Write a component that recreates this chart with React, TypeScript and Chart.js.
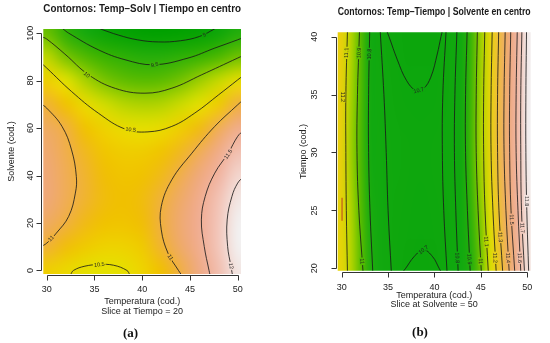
import React, { useEffect, useRef } from "react";
import { Chart, registerables } from "chart.js";

Chart.register(...registerables);

const FONT = "'Liberation Sans', Arial, sans-serif";

// ---------- ticks ----------
const temperaturaTicks = [30, 35, 40, 45, 50];
const solventeTicks = [0, 20, 40, 60, 80, 100];
const tiempoTicks = [20, 25, 30, 35, 40];

// ---------- panel (a): response grid (rows = Solvente, cols = Temperatura) ----------
const gridTempA = [30, 32, 34, 36, 38, 40, 42, 44, 46, 48, 50];
const gridSolvA = [0, 10, 20, 30, 40, 50, 60, 70, 80, 90, 100];
const responseA = [
  [10.65, 10.56, 10.47, 10.45, 10.48, 10.6, 10.8, 11.02, 11.35, 11.7, 12.1],
  [10.97, 10.83, 10.7, 10.62, 10.62, 10.7, 10.95, 11.18, 11.44, 11.8, 12.2],
  [11.15, 11.0, 10.87, 10.78, 10.76, 10.82, 11.0, 11.22, 11.47, 11.8, 12.2],
  [11.25, 11.1, 10.95, 10.84, 10.8, 10.84, 10.98, 11.18, 11.42, 11.75, 12.1],
  [11.25, 11.1, 10.95, 10.82, 10.76, 10.78, 10.88, 11.06, 11.3, 11.58, 11.95],
  [11.22, 11.06, 10.9, 10.75, 10.68, 10.68, 10.76, 10.9, 11.1, 11.38, 11.72],
  [11.15, 11.0, 10.78, 10.62, 10.52, 10.48, 10.52, 10.66, 10.85, 11.1, 11.4],
  [10.97, 10.78, 10.54, 10.38, 10.27, 10.23, 10.25, 10.35, 10.47, 10.68, 11.0],
  [10.65, 10.45, 10.22, 10.03, 9.92, 9.87, 9.9, 10.0, 10.17, 10.33, 10.5],
  [10.3, 10.02, 9.83, 9.67, 9.54, 9.46, 9.46, 9.53, 9.65, 9.8, 9.98],
  [9.95, 9.55, 9.25, 9.05, 8.93, 8.87, 8.85, 8.88, 8.95, 9.1, 9.4],
];

// contour lines (Temperatura, Solvente)
const contour9A = [[35.6, 101.8], [37.5, 99.2], [39.5, 97.2], [41.7, 96.3], [44, 96.8], [46, 98.6], [47.6, 101.8]];
const contour95A = [[31.7, 101.8], [32.3, 100], [35.4, 93], [38.2, 88.8], [41.2, 86.7], [44.8, 89.5], [47.6, 93.7], [50, 97.2], [50.6, 98.2]];
const contour10A = [[29.4, 98.6], [30, 97.5], [31.9, 91.2], [34.4, 82.4], [37.2, 76.7], [40.3, 74.7], [43.1, 76.8], [46.2, 82.4], [50, 89.5], [50.6, 90.6]];
const contour105A = [[29.4, 87.5], [30, 85.3], [32.6, 75.4], [35.4, 66.3], [38.2, 59.6], [40.6, 58.4], [43.1, 60.7], [45.5, 66.3], [48, 74], [50, 80.3], [50.6, 82.2]];
const contour11LeftA = [[29.3, 70.5], [30, 68.4], [31.6, 60.7], [32.6, 50.8], [33.1, 39.6], [33, 32.6], [32.3, 22.8], [31, 15.7], [30, 11.5], [29.4, 10]];
const contour11RightA = [[50.6, 72], [50, 69.8], [47.6, 60.7], [45.2, 49.4], [43.1, 38.2], [42, 27], [42, 17.1], [42.7, 7.3], [43.8, 0], [44.1, -1.8]];
const contour115A = [[50.6, 59], [50, 56.5], [49, 49.4], [47.6, 41], [46.6, 31.2], [46.2, 21.3], [46.5, 10.1], [47, 0], [47.1, -1.8]];
const contour12A = [[50.6, 39.5], [50, 36.8], [49.4, 31.2], [48.9, 21.3], [48.95, 10.1], [49.3, 1.7], [49.45, -1.8]];
const contour105BottomA = [[32.5, -1.8], [32.8, 0], [34, 1.8], [35.5, 2.5], [37, 2.2], [38.4, 0], [38.7, -1.8]];

const contourLabelsA = [
  ["9", 46.5, 99.3],
  ["9.5", 41.3, 86.7],
  ["10", 34.2, 82.5],
  ["10.5", 38.8, 59.4],
  ["11", 30.45, 13.5],
  ["11", 42.95, 5.6],
  ["11.5", 49.0, 49.0],
  ["12", 49.32, 1.9],
  ["10.5", 35.5, 2.5],
];

const colorStopsA = [
  [8.85, "#00A000"],
  [9.3, "#18AA10"],
  [9.7, "#3CB400"],
  [9.9, "#5CBC00"],
  [10.1, "#8CC800"],
  [10.3, "#C0D800"],
  [10.45, "#E4E200"],
  [10.6, "#EED400"],
  [10.8, "#F0C000"],
  [11.0, "#F0B040"],
  [11.25, "#EFA878"],
  [11.5, "#F0AE98"],
  [11.8, "#F2C6BA"],
  [12.2, "#F2F0F0"],
];

// ---------- panel (b): response grid (rows = Tiempo, cols = Temperatura) ----------
const gridTempB = [30, 31, 32, 33, 34, 35, 36, 37, 38, 39, 40, 41, 42, 43, 44, 45, 46, 47, 48, 49, 50];
const gridTiempoB = [20, 25, 30, 35, 40];
const responseB = [
  [11.18, 11.08, 10.99, 10.92, 10.86, 10.81, 10.74, 10.70, 10.69, 10.69, 10.70, 10.74, 10.77, 10.84, 10.92, 11.0, 11.13, 11.26, 11.4, 11.56, 11.78],
  [11.19, 11.07, 10.98, 10.91, 10.85, 10.8, 10.755, 10.725, 10.715, 10.715, 10.725, 10.75, 10.78, 10.85, 10.94, 11.03, 11.16, 11.29, 11.43, 11.6, 11.8],
  [11.2, 11.05, 10.97, 10.9, 10.84, 10.795, 10.77, 10.75, 10.745, 10.745, 10.75, 10.765, 10.79, 10.87, 10.96, 11.06, 11.19, 11.33, 11.47, 11.63, 11.83],
  [11.2, 11.06, 10.975, 10.9, 10.825, 10.775, 10.74, 10.72, 10.71, 10.71, 10.72, 10.75, 10.785, 10.865, 10.955, 11.055, 11.185, 11.32, 11.46, 11.625, 11.825],
  [11.2, 11.08, 10.98, 10.9, 10.81, 10.75, 10.71, 10.69, 10.68, 10.68, 10.69, 10.74, 10.78, 10.86, 10.95, 11.05, 11.18, 11.31, 11.45, 11.62, 11.82],
];

// near-vertical contour lines: Temperatura position at each Tiempo row
const contourRowsB = [19.7, 25, 30, 35, 40.5];
const contourColsB = [
  [30.62, 30.5, 30.45, 30.45, 30.62],
  [32.3, 31.85, 31.65, 31.7, 31.92],
  [33.35, 33.05, 32.9, 32.9, 33.02],
  [35.35, 35.0, 34.8, 34.55, 34.15],
  [41.35, 41.0, 40.85, 40.9, 41.25],
  [42.55, 42.3, 42.15, 42.2, 42.42],
  [43.85, 43.55, 43.35, 43.35, 43.52],
  [45.05, 44.7, 44.5, 44.5, 44.62],
  [45.8, 45.45, 45.3, 45.3, 45.42],
  [46.65, 46.3, 46.1, 46.1, 46.22],
  [47.35, 46.95, 46.8, 46.8, 46.92],
  [48.05, 47.7, 47.5, 47.5, 47.62],
  [48.65, 48.25, 48.1, 48.1, 48.22],
  [49.3, 49.0, 48.8, 48.8, 48.92],
  [49.7, 49.38, 49.3, 49.3, 49.42],
  [50.15, 49.95, 49.85, 49.85, 49.92],
];
const contourTopLoopB = [[34.85, 40.5], [35.1, 40], [36, 38], [37, 36.2], [38, 35.35], [38.8, 35.5], [39.6, 36.5], [40.3, 38.5], [40.7, 40], [40.85, 40.5]];
const contourBottomLoopB = [[36.6, 19.7], [36.9, 20], [37.8, 21], [38.8, 21.6], [39.8, 21], [40.5, 20], [40.7, 19.7]];
const edgeSegmentB = [[30.04, 24.1], [30.04, 26.1]];

const contourLabelsB = [
  ["11.2", 30.1, 34.8],
  ["11.1", 30.5, 38.6],
  ["10.9", 31.85, 38.6],
  ["10.8", 32.98, 38.5],
  ["10.7", 38.3, 35.38],
  ["10.7", 38.8, 21.6],
  ["11", 32.22, 20.6],
  ["10.8", 42.47, 20.9],
  ["10.9", 43.77, 20.8],
  ["11", 44.97, 20.6],
  ["11.1", 45.6, 22.3],
  ["11.2", 46.55, 20.9],
  ["11.3", 47.12, 22.7],
  ["11.4", 47.95, 20.9],
  ["11.5", 48.33, 24.2],
  ["11.6", 49.2, 20.9],
  ["11.7", 49.48, 23.5],
  ["11.8", 49.95, 25.8],
];

const colorStopsB = [
  [10.68, "#0CA60C"],
  [10.9, "#14AA10"],
  [10.98, "#58BC00"],
  [11.06, "#A8D200"],
  [11.14, "#DEE000"],
  [11.22, "#EACA10"],
  [11.32, "#EEB848"],
  [11.45, "#EEA878"],
  [11.6, "#F0B4A0"],
  [11.72, "#F2CCC0"],
  [11.83, "#F2EEEE"],
];

// ---------- helpers ----------
function hexRgb(h: string) {
  return [parseInt(h.slice(1, 3), 16), parseInt(h.slice(3, 5), 16), parseInt(h.slice(5, 7), 16)];
}
function colorAt(v: number, stops: any[]) {
  if (v <= stops[0][0]) return hexRgb(stops[0][1]);
  for (let i = 1; i < stops.length; i++) {
    if (v <= stops[i][0]) {
      const t = (v - stops[i - 1][0]) / (stops[i][0] - stops[i - 1][0]);
      const a = hexRgb(stops[i - 1][1]);
      const b = hexRgb(stops[i][1]);
      return [0, 1, 2].map((k) => Math.round(a[k] + (b[k] - a[k]) * t));
    }
  }
  return hexRgb(stops[stops.length - 1][1]);
}
function distToSeg(px: number, py: number, x1: number, y1: number, x2: number, y2: number) {
  const dx = x2 - x1, dy = y2 - y1;
  const L = dx * dx + dy * dy || 1;
  let t = ((px - x1) * dx + (py - y1) * dy) / L;
  t = Math.max(0, Math.min(1, t));
  const qx = x1 + t * dx, qy = y1 + t * dy;
  return Math.hypot(px - qx, py - qy);
}

type Panel = {
  left: number;
  title: string;
  titleSize: number;
  titlePadTop: number;
  titlePadBottom: number;
  padRight: number;
  xMin: number; xMax: number; yMin: number; yMax: number;
  yTicks: number[];
  yTitle: string;
  yTitlePad: number;
  yWidth: number;
  yLabelX: number;
  xHeight: number;
  xTickPad: number;
  xTitle: string[];
  xTitleLine: number;
  xTitlePadBottom: number;
  gx: number[]; gy: number[]; z: number[][]; stops: any[];
  lines: number[][][];
  extra: number[][][];
  labels: any[];
};

function buildChart(canvas: HTMLCanvasElement, p: Panel) {
  const bgColors: string[] = [];

  const heatPlugin = {
    id: "heat",
    beforeDatasetsDraw(chart: any) {
      const { ctx, chartArea: ca, scales } = chart;
      const X = scales.x, Y = scales.y;
      const nx = p.gx.length, ny = p.gy.length;
      const off = document.createElement("canvas");
      off.width = nx + 2;
      off.height = ny + 2;
      const octx = off.getContext("2d")!;
      const img = octx.createImageData(nx + 2, ny + 2);
      for (let r = 0; r < ny + 2; r++) {
        const j = Math.min(ny - 1, Math.max(0, ny - r));
        for (let c = 0; c < nx + 2; c++) {
          const i = Math.min(nx - 1, Math.max(0, c - 1));
          const col = colorAt(p.z[j][i], p.stops);
          const k = (r * (nx + 2) + c) * 4;
          img.data[k] = col[0];
          img.data[k + 1] = col[1];
          img.data[k + 2] = col[2];
          img.data[k + 3] = 255;
        }
      }
      octx.putImageData(img, 0, 0);
      const dx = p.gx[1] - p.gx[0];
      const dy = p.gy[1] - p.gy[0];
      const l = X.getPixelForValue(p.gx[0] - 1.5 * dx);
      const rr = X.getPixelForValue(p.gx[nx - 1] + 1.5 * dx);
      const t = Y.getPixelForValue(p.gy[ny - 1] + 1.5 * dy);
      const b = Y.getPixelForValue(p.gy[0] - 1.5 * dy);
      ctx.save();
      ctx.beginPath();
      ctx.rect(ca.left, ca.top, ca.right - ca.left, ca.bottom - ca.top);
      ctx.clip();
      ctx.imageSmoothingEnabled = true;
      (ctx as any).imageSmoothingQuality = "high";
      ctx.drawImage(off, l, t, rr - l, b - t);
      ctx.restore();
      // sample background under each contour label (for the label gap)
      bgColors.length = 0;
      const dpr = chart.currentDevicePixelRatio || 1;
      for (const lab of p.labels) {
        const px = X.getPixelForValue(lab[1]);
        const py = Y.getPixelForValue(lab[2]);
        const d = ctx.getImageData(Math.round(px * dpr), Math.round(py * dpr), 1, 1).data;
        bgColors.push(`rgb(${d[0]},${d[1]},${d[2]})`);
      }
    },
  };

  const labelPlugin = {
    id: "clabels",
    afterDatasetsDraw(chart: any) {
      const { ctx, chartArea: ca, scales } = chart;
      const X = scales.x, Y = scales.y;
      const segs = p.lines.map((ln) => ln.map(([x, y]) => [X.getPixelForValue(x), Y.getPixelForValue(y)]));
      ctx.save();
      ctx.beginPath();
      ctx.rect(ca.left, ca.top, ca.right - ca.left, ca.bottom - ca.top);
      ctx.clip();
      ctx.font = `5.5px ${FONT}`;
      p.labels.forEach((lab, k) => {
        const px = X.getPixelForValue(lab[1]);
        const py = Y.getPixelForValue(lab[2]);
        let best = Infinity, ang = 0;
        for (const pts of segs) {
          for (let i = 0; i < pts.length - 1; i++) {
            const d = distToSeg(px, py, pts[i][0], pts[i][1], pts[i + 1][0], pts[i + 1][1]);
            if (d < best) {
              best = d;
              ang = Math.atan2(pts[i + 1][1] - pts[i][1], pts[i + 1][0] - pts[i][0]);
            }
          }
        }
        if (ang > Math.PI / 2) ang -= Math.PI;
        if (ang <= -Math.PI / 2) ang += Math.PI;
        const w = ctx.measureText(lab[0]).width;
        ctx.save();
        ctx.translate(px, py);
        ctx.rotate(ang);
        ctx.fillStyle = bgColors[k] || "#fff";
        ctx.fillRect(-w / 2 - 1, -2.6, w + 2, 5.2);
        ctx.fillStyle = "#222";
        ctx.textAlign = "center";
        ctx.textBaseline = "middle";
        ctx.fillText(lab[0], 0, 0.3);
        ctx.restore();
      });
      ctx.restore();
    },
  };

  const axesPlugin = {
    id: "raxes",
    afterDraw(chart: any) {
      const { ctx, chartArea: ca, scales } = chart;
      const X = scales.x, Y = scales.y;
      ctx.save();
      ctx.strokeStyle = "#333";
      ctx.lineWidth = 1;
      ctx.beginPath();
      const yb = Math.round(ca.bottom + 1) + 0.5;
      const xt = temperaturaTicks;
      ctx.moveTo(Math.round(X.getPixelForValue(xt[0])) + 0.5, yb);
      ctx.lineTo(Math.round(X.getPixelForValue(xt[xt.length - 1])) + 0.5, yb);
      for (const t of xt) {
        const x = Math.round(X.getPixelForValue(t)) + 0.5;
        ctx.moveTo(x, yb);
        ctx.lineTo(x, yb + 5);
      }
      const xl = Math.round(ca.left - 1) - 0.5;
      const yt = p.yTicks;
      ctx.moveTo(xl, Math.round(Y.getPixelForValue(yt[0])) + 0.5);
      ctx.lineTo(xl, Math.round(Y.getPixelForValue(yt[yt.length - 1])) + 0.5);
      for (const t of yt) {
        const y = Math.round(Y.getPixelForValue(t)) + 0.5;
        ctx.moveTo(xl, y);
        ctx.lineTo(xl - 5, y);
      }
      ctx.stroke();
      ctx.fillStyle = "#222";
      ctx.font = `9px ${FONT}`;
      ctx.textAlign = "center";
      ctx.textBaseline = "middle";
      for (const t of yt) {
        ctx.save();
        ctx.translate(p.yLabelX, Y.getPixelForValue(t));
        ctx.rotate(-Math.PI / 2);
        ctx.fillText(String(t), 0, 0);
        ctx.restore();
      }
      ctx.restore();
    },
  };

  const datasets: any[] = p.lines.map((ln) => ({
    data: ln.map(([x, y]) => ({ x, y })),
    showLine: true,
    pointRadius: 0,
    borderColor: "rgba(25,25,25,0.92)",
    borderWidth: 0.9,
    tension: 0.4,
    fill: false,
  }));
  for (const ln of p.extra) {
    datasets.push({
      data: ln.map(([x, y]) => ({ x, y })),
      showLine: true,
      pointRadius: 0,
      borderColor: "#C87818",
      borderWidth: 1.6,
      tension: 0,
      fill: false,
    });
  }

  return new Chart(canvas, {
    type: "scatter",
    data: { datasets },
    options: {
      responsive: false,
      animation: false,
      devicePixelRatio: 1,
      events: [],
      layout: { padding: { left: 0, right: p.padRight, top: 0, bottom: 0 } },
      plugins: {
        legend: { display: false },
        tooltip: { enabled: false },
        title: {
          display: true,
          text: p.title,
          fullSize: false,
          color: "#1a1a1a",
          font: { family: FONT, size: p.titleSize, weight: "bold", lineHeight: 1.2 },
          padding: { top: p.titlePadTop, bottom: p.titlePadBottom },
        },
      },
      scales: {
        x: {
          type: "linear",
          min: p.xMin,
          max: p.xMax,
          afterBuildTicks: (s: any) => {
            s.ticks = temperaturaTicks.map((v) => ({ value: v }));
          },
          afterFit: (s: any) => {
            s.height = p.xHeight;
          },
          grid: { display: false, drawTicks: false },
          border: { display: false },
          ticks: {
            color: "#222",
            font: { family: FONT, size: 9, lineHeight: 1.2 },
            padding: p.xTickPad,
            maxRotation: 0,
            minRotation: 0,
            autoSkip: false,
            callback: (v: any) => String(v),
          },
          title: {
            display: true,
            text: p.xTitle,
            color: "#222",
            font: { family: FONT, size: 9, lineHeight: p.xTitleLine },
            padding: { top: 0, bottom: p.xTitlePadBottom },
          },
        },
        y: {
          type: "linear",
          min: p.yMin,
          max: p.yMax,
          afterBuildTicks: (s: any) => {
            s.ticks = p.yTicks.map((v) => ({ value: v }));
          },
          afterFit: (s: any) => {
            s.width = p.yWidth;
          },
          grid: { display: false, drawTicks: false },
          border: { display: false },
          ticks: { display: false },
          title: {
            display: true,
            text: p.yTitle,
            color: "#222",
            font: { family: FONT, size: 9, lineHeight: 1.2 },
            padding: { top: p.yTitlePad, bottom: 0 },
          },
        },
      },
    } as any,
    plugins: [heatPlugin, labelPlugin, axesPlugin],
  });
}

const panelA: Panel = {
  left: 0,
  title: "Contornos: Temp\u2013Solv | Tiempo en centro",
  titleSize: 10.5,
  titlePadTop: 3.2,
  titlePadBottom: 13.2,
  padRight: 34,
  xMin: 29.64, xMax: 50.35, yMin: -1.5, yMax: 101.75,
  yTicks: solventeTicks,
  yTitle: "Solvente (cod.)",
  yTitlePad: 6.6,
  yWidth: 43.3,
  yLabelX: 30.3,
  xHeight: 69,
  xTickPad: 10.1,
  xTitle: ["Temperatura (cod.)", "Slice at Tiempo = 20"],
  xTitleLine: 1.11,
  xTitlePadBottom: 26,
  gx: gridTempA, gy: gridSolvA, z: responseA, stops: colorStopsA,
  lines: [contour9A, contour95A, contour10A, contour105A, contour11LeftA, contour11RightA, contour115A, contour12A, contour105BottomA],
  extra: [],
  labels: contourLabelsA,
};

const panelB: Panel = {
  left: 275,
  title: "Contornos: Temp\u2013Tiempo | Solvente en centro",
  titleSize: 10.2,
  titlePadTop: 6.4,
  titlePadBottom: 13.66,
  padRight: 19.3,
  xMin: 29.57, xMax: 50.37, yMin: 19.79, yMax: 40.38,
  yTicks: tiempoTicks,
  yTitle: "Tiempo (cod.)",
  yTitlePad: 23.6,
  yWidth: 62.7,
  yLabelX: 40,
  xHeight: 72.3,
  xTickPad: 11.4,
  xTitle: ["Temperatura (cod.)", "Slice at Solvente = 50"],
  xTitleLine: 1.0,
  xTitlePadBottom: 33.5,
  gx: gridTempB, gy: gridTiempoB, z: responseB, stops: colorStopsB,
  lines: [
    ...contourColsB.map((cols) => cols.map((t, i) => [t, contourRowsB[i]])),
    contourTopLoopB,
    contourBottomLoopB,
  ],
  extra: [edgeSegmentB],
  labels: contourLabelsB,
};

function ContourPanel({ panel }: { panel: Panel }) {
  const ref = useRef<HTMLCanvasElement>(null);
  useEffect(() => {
    const chart = buildChart(ref.current!, panel);
    return () => chart.destroy();
  }, []);
  return (
    <canvas
      ref={ref}
      width={275}
      height={343}
      style={{ position: "absolute", left: panel.left, top: 0, width: 275, height: 343 }}
    />
  );
}

const capStyle: React.CSSProperties = {
  position: "absolute",
  transform: "translate(-50%, -50%)",
  font: "bold 13px 'Liberation Serif', 'Times New Roman', serif",
  color: "#111",
  whiteSpace: "nowrap",
};

export default function App() {
  return (
    <div style={{ position: "fixed", left: 0, top: 0, width: 550, height: 343, background: "#fff", overflow: "hidden" }}>
      <ContourPanel panel={panelA} />
      <ContourPanel panel={panelB} />
      <div style={{ ...capStyle, left: 130.5, top: 333 }}>(a)</div>
      <div style={{ ...capStyle, left: 420, top: 332 }}>(b)</div>
    </div>
  );
}
